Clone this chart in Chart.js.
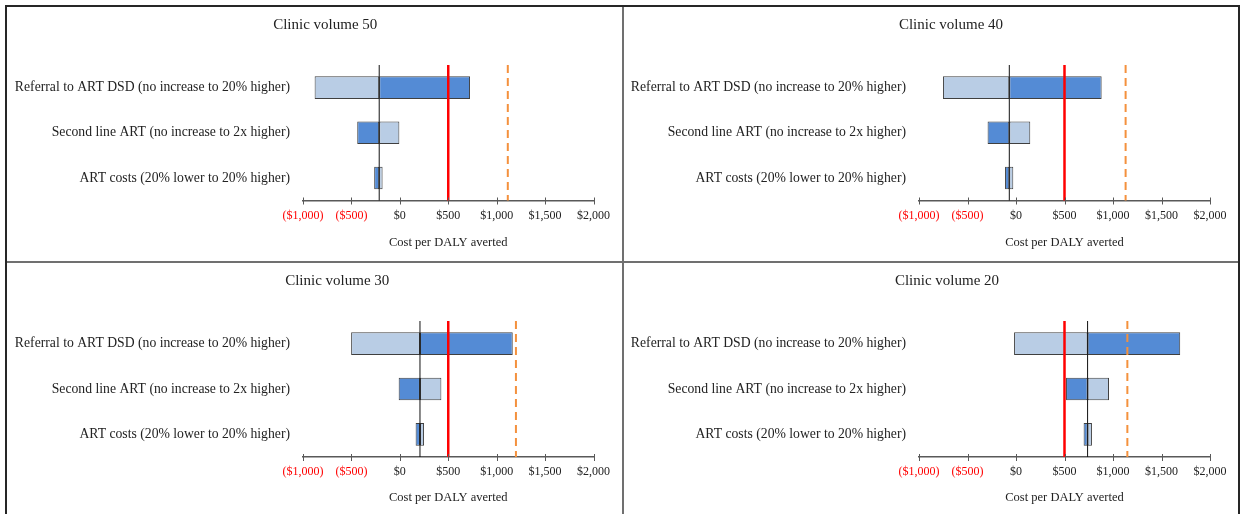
<!DOCTYPE html>
<html>
<head>
<meta charset="utf-8">
<title>Clinic volume tornado charts</title>
<script src="https://cdn.jsdelivr.net/npm/chart.js@4.4.0/dist/chart.umd.min.js"></script>
<style>
    body { margin: 0; background: #fff; width: 1245px; height: 514px; position: relative; overflow: hidden; }
    .line { position: absolute; }
    .frame { background: #262626; }
    .divider { background: #707070; }
    canvas { position: absolute; }
</style>
</head>
<body>
<div class="line frame" style="left:5px;top:5px;width:1235px;height:2px"></div>
<div class="line frame" style="left:5px;top:5px;width:2px;height:509px"></div>
<div class="line frame" style="left:1238px;top:5px;width:2px;height:509px"></div>
<div class="line divider" style="left:622px;top:7px;width:2px;height:507px"></div>
<div class="line divider" style="left:7px;top:261px;width:1231px;height:2px"></div>

<canvas id="chart50" width="615" height="254" style="left:7px;top:7px"></canvas>
<canvas id="chart40" width="614" height="254" style="left:624px;top:7px"></canvas>
<canvas id="chart30" width="615" height="251" style="left:7px;top:263px"></canvas>
<canvas id="chart20" width="614" height="251" style="left:624px;top:263px"></canvas>

<script>
// --- DATA ---
const categories = [
    'Referral to ART DSD (no increase to 20% higher)',
    'Second line ART (no increase to 2x higher)',
    'ART costs (20% lower to 20% higher)'
];
const panelTitles = ['Clinic volume 50', 'Clinic volume 40', 'Clinic volume 30', 'Clinic volume 20'];
const xTicks = [-1000, -500, 0, 500, 1000, 1500, 2000];

// base case cost per DALY averted for each clinic volume
const baseValues = [-213, -69, 208, 738];
// end of the dark and light bars, per category
const darkEnds50 = [725, -440, -265];
const lightEnds50 = [-880, -5, -178];
const darkEnds40 = [883, -293, -113];
const lightEnds40 = [-753, 147, -28];
const darkEnds30 = [1166, -12, 163];
const lightEnds30 = [-503, 429, 250];
const darkEnds20 = [1693, 516, 697];
const lightEnds20 = [-20, 959, 783];

const redLineValue = 500;
const thresholds = [1115, 1130, 1199, 1148];

// --- STYLE ---
const FONT = "'Liberation Serif', 'Times New Roman', serif";
const TEXT = '#222222';
const DARK_BLUE = '#548BD5';
const LIGHT_BLUE = '#B9CDE5';
const BAR_BORDER = '#3F3F3F';

// left = where the plot area starts, titleDx = title offset from centre
const panels = [
    { id: 'chart50', dark: darkEnds50, light: lightEnds50, titleDx: 25, left: 296, right: 28.5, xHeight: 60.5, titlePad: 11 },
    { id: 'chart40', dark: darkEnds40, light: lightEnds40, titleDx: 34, left: 295, right: 28, xHeight: 60.5, titlePad: 11 },
    { id: 'chart30', dark: darkEnds30, light: lightEnds30, titleDx: 37, left: 296, right: 28.5, xHeight: 57, titlePad: 9 },
    { id: 'chart20', dark: darkEnds20, light: lightEnds20, titleDx: 30, left: 295, right: 28, xHeight: 57, titlePad: 9 }
];

function formatMoney(v) {
    const s = '$' + Math.abs(v).toLocaleString('en-US');
    return v < 0 ? '(' + s + ')' : s;
}

// nudge the title box sideways (the title isn't centred over the canvas in the original)
const titleShift = {
    id: 'titleShift',
    afterLayout(chart, args, opts) {
        const t = chart.titleBlock;
        if (t) {
            t.left += opts.dx;
            t.right += opts.dx;
        }
    }
};

// vertical reference lines and crossing tick marks
const refLines = {
    id: 'refLines',
    afterDatasetsDraw(chart, args, opts) {
        const { ctx, chartArea: { top, bottom }, scales: { x } } = chart;
        const drawV = (value, color, width, dash) => {
            const px = x.getPixelForValue(value);
            ctx.save();
            ctx.strokeStyle = color;
            ctx.lineWidth = width;
            ctx.setLineDash(dash);
            ctx.beginPath();
            ctx.moveTo(px, top);
            ctx.lineTo(px, bottom);
            ctx.stroke();
            ctx.restore();
        };
        drawV(opts.base, '#111111', 1, []);
        drawV(redLineValue, '#FF0000', 2.5, []);
        drawV(opts.threshold, '#F4913D', 2, [8, 5]);
    },
    afterDraw(chart) {
        const { ctx, scales: { x } } = chart;
        const y = x.top;
        ctx.save();
        ctx.strokeStyle = '#595959';
        ctx.lineWidth = 1;
        x.ticks.forEach(t => {
            const px = Math.round(x.getPixelForValue(t.value)) + 0.5;
            ctx.beginPath();
            ctx.moveTo(px, y - 3);
            ctx.lineTo(px, y + 4);
            ctx.stroke();
        });
        ctx.restore();
    }
};

function renderPanel(p, i) {
    const base = baseValues[i];
    const canvas = document.getElementById(p.id);
    return new Chart(canvas, {
        type: 'bar',
        data: {
            labels: categories,
            datasets: [
                {
                    label: 'Dark',
                    data: p.dark.map(v => [base, v]),
                    backgroundColor: DARK_BLUE,
                    borderColor: BAR_BORDER,
                    borderWidth: 1,
                    borderSkipped: false
                },
                {
                    label: 'Light',
                    data: p.light.map(v => [base, v]),
                    backgroundColor: LIGHT_BLUE,
                    borderColor: BAR_BORDER,
                    borderWidth: 1,
                    borderSkipped: false
                }
            ]
        },
        options: {
            indexAxis: 'y',
            responsive: false,
            animation: false,
            grouped: false,
            categoryPercentage: 1,
            barPercentage: 0.5,
            layout: { padding: { left: 0, right: p.right, top: 0, bottom: 0 } },
            plugins: {
                legend: { display: false },
                tooltip: { enabled: false },
                title: {
                    display: true,
                    text: panelTitles[i],
                    color: TEXT,
                    font: { family: FONT, size: 15, weight: 'normal' },
                    padding: { top: 9, bottom: 31 }
                },
                titleShift: { dx: p.titleDx },
                refLines: { base: base, threshold: thresholds[i] }
            },
            scales: {
                x: {
                    type: 'linear',
                    min: xTicks[0],
                    max: xTicks[xTicks.length - 1],
                    afterBuildTicks: scale => { scale.ticks = xTicks.map(v => ({ value: v })); },
                    afterFit: scale => { scale.height = p.xHeight; },
                    grid: { display: false, drawTicks: false },
                    border: { display: true, color: '#595959', width: 1.5 },
                    ticks: {
                        padding: 8,
                        color: ctx => ctx.tick.value < 0 ? '#FF0000' : TEXT,
                        font: { family: FONT, size: 12 },
                        callback: v => formatMoney(v)
                    },
                    title: {
                        display: true,
                        text: 'Cost per DALY averted',
                        color: TEXT,
                        font: { family: FONT, size: 12.5 },
                        padding: { top: 0, bottom: p.titlePad }
                    }
                },
                y: {
                    type: 'category',
                    afterFit: scale => { scale.width = p.left; },
                    grid: { display: false },
                    border: { display: false },
                    ticks: {
                        padding: 5,
                        color: TEXT,
                        font: { family: FONT, size: 13.7 }
                    }
                }
            }
        },
        plugins: [titleShift, refLines]
    });
}

panels.forEach(renderPanel);
</script>
</body>
</html>
